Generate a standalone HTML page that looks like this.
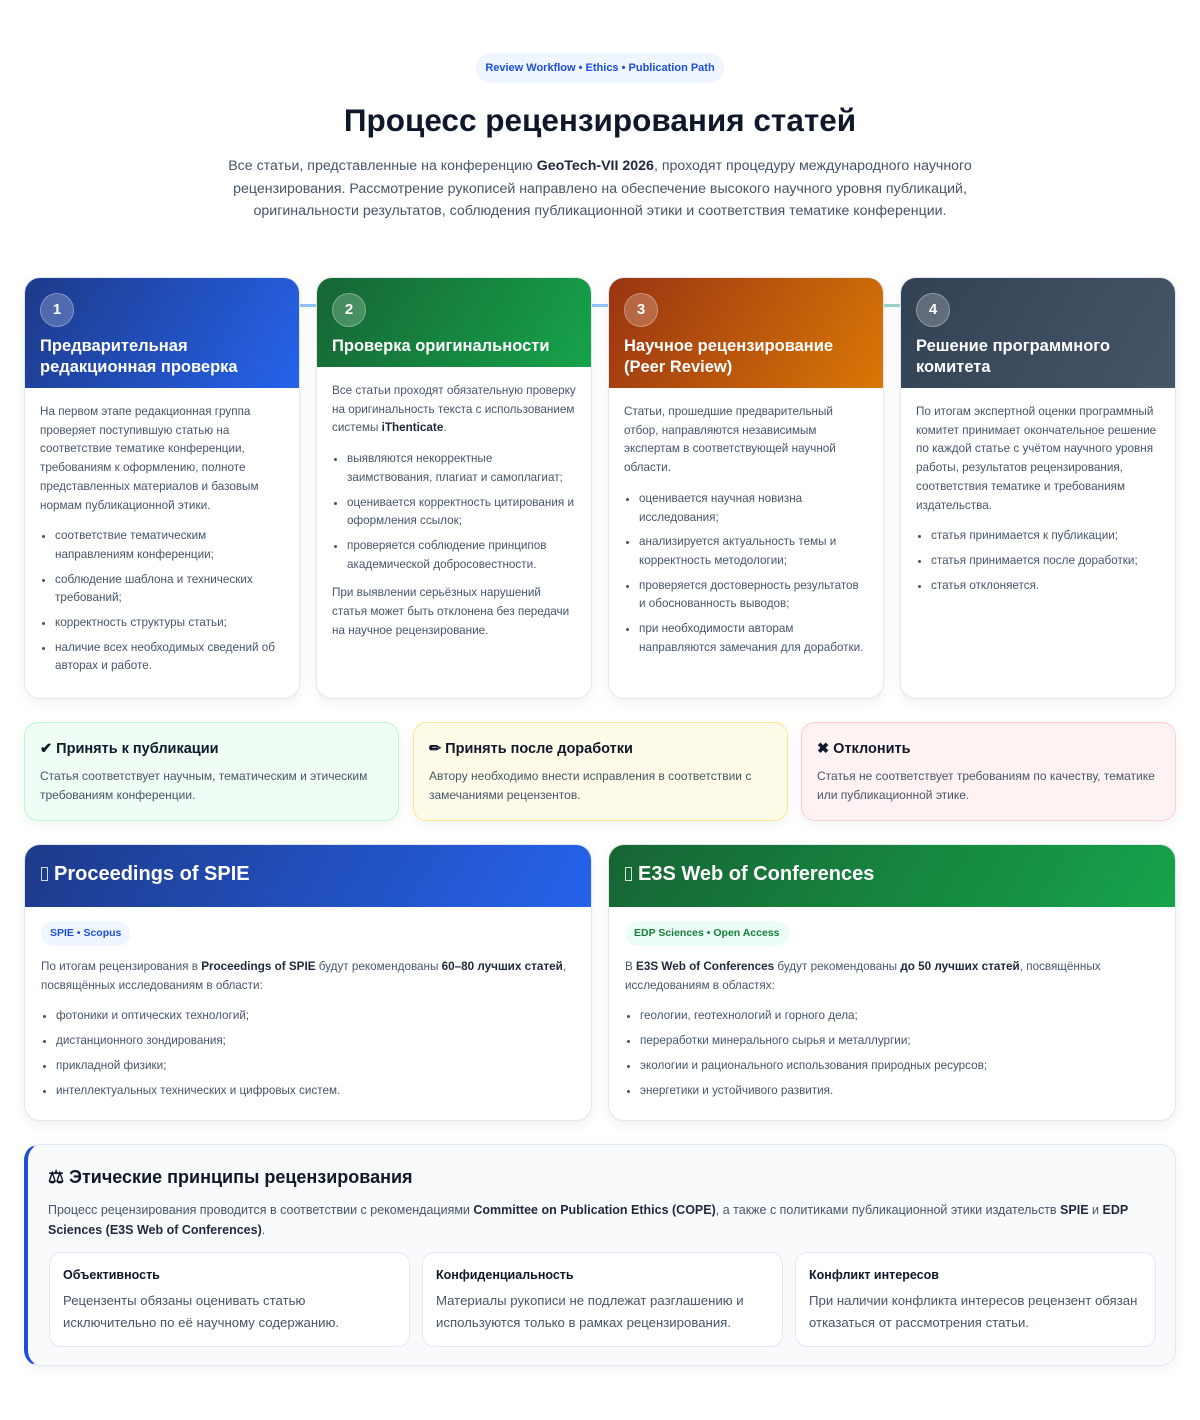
<!DOCTYPE html>
<html><head><meta charset="utf-8">
<style>
*{box-sizing:border-box;margin:0;padding:0}
body{width:1200px;height:1420px;background:#fff;font-family:"Liberation Sans",sans-serif;color:#0f172a;position:relative;overflow:hidden}
.abs{position:absolute}
.badge{left:476px;top:53px;width:248px;height:30px;border-radius:15px;background:#eff6ff;color:#1d4ed8;font-size:11px;font-weight:bold;text-align:center;line-height:30px}
h1{position:absolute;left:0;width:1200px;top:102px;text-align:center;font-size:31.5px;font-weight:bold;color:#0f172a}
.sub{left:220px;width:760px;top:155px;text-align:center;font-size:14.2px;line-height:22.5px;color:#475569}
.sub b{color:#1e293b}
.line{height:3px;top:304px}
.step{top:277px;width:276px;height:422px;border:1px solid #e2e8f0;border-radius:16px;background:#fff;overflow:hidden;box-shadow:0 4px 14px rgba(15,23,42,.06)}
.sh{padding:15px 15px 10px;color:#fff}
.num{width:34px;height:34px;border-radius:50%;background:rgba(255,255,255,.22);border:1px solid rgba(255,255,255,.3);text-align:center;line-height:32px;font-weight:bold;font-size:15px;margin-bottom:9px}
.sh h3{font-size:16.5px;line-height:21px;font-weight:bold}
.sb{padding:15px 15px 0;font-size:11.7px;line-height:18.7px;color:#475569}
.sb b{color:#1e293b}
ul{padding-left:15px;margin:12px 0 10px}
li{margin-bottom:6px}
.dec{top:722px;height:99px;width:375px;border-radius:14px;padding:18px 15px 0;box-shadow:0 4px 12px rgba(15,23,42,.05)}
.dec h4{font-size:14.5px;font-weight:bold;margin-bottom:10px}
.dec p{font-size:12px;line-height:18.7px;color:#475569}
.pub{top:844px;width:568px;height:277px;border:1px solid #e2e8f0;border-radius:16px;overflow:hidden;background:#fff;box-shadow:0 4px 14px rgba(15,23,42,.06)}
.ph{height:62px;color:#fff;font-size:20px;font-weight:bold;padding:18px 16px 0}
.box{display:inline-block;width:7px;height:14px;border:1px solid rgba(255,255,255,.8);margin-right:6px;vertical-align:-1px}
.pb{padding:14px 16px;font-size:11.7px;line-height:18.7px;color:#475569}
.pb b{color:#1e293b}
.tag{display:inline-block;height:25px;line-height:25px;border-radius:13px;padding:0 9px;font-size:10.5px;font-weight:bold;margin-bottom:12px}
.pb li{margin-bottom:6.3px}
.eth{left:24px;top:1144px;width:1152px;height:222px;border:1px solid #e2e8f0;border-left:4px solid #1d4ed8;border-radius:16px;background:#f8fafc;padding:22px 20px 0;box-shadow:0 4px 14px rgba(15,23,42,.05)}
.eth h3{font-size:18px;font-weight:bold;margin-bottom:12px}
.eth p.t{font-size:12.5px;line-height:20px;color:#475569}
.eth p.t b{color:#1e293b}
.ec{position:absolute;top:107px;width:361px;height:95px;background:#fff;border:1px solid #e2e8f0;border-radius:12px;padding:15px 13px}
.ec h5{font-size:12.5px;font-weight:bold;margin-bottom:8px}
.ec p{font-size:13.2px;line-height:22px;color:#475569}
</style></head><body>
<div class="abs badge">Review Workflow • Ethics • Publication Path</div>
<h1>Процесс рецензирования статей</h1>
<div class="abs sub">Все статьи, представленные на конференцию <b>GeoTech-VII 2026</b>, проходят процедуру международного научного рецензирования. Рассмотрение рукописей направлено на обеспечение высокого научного уровня публикаций, оригинальности результатов, соблюдения публикационной этики и соответствия тематике конференции.</div>

<div class="abs line" style="left:290px;width:40px;background:#93c5fd"></div>
<div class="abs line" style="left:582px;width:40px;background:#93c5fd"></div>
<div class="abs line" style="left:874px;width:40px;background:#99d6cc"></div>

<div class="abs step" style="left:24px">
<div class="sh" style="background:linear-gradient(120deg,#1e3a8a,#2563eb)"><div class="num">1</div><h3>Предварительная редакционная проверка</h3></div>
<div class="sb">На первом этапе редакционная группа проверяет поступившую статью на соответствие тематике конференции, требованиям к оформлению, полноте представленных материалов и базовым нормам публикационной этики.
<ul><li>соответствие тематическим направлениям конференции;</li><li>соблюдение шаблона и технических требований;</li><li>корректность структуры статьи;</li><li>наличие всех необходимых сведений об авторах и работе.</li></ul></div></div>

<div class="abs step" style="left:316px">
<div class="sh" style="background:linear-gradient(120deg,#166534,#16a34a)"><div class="num">2</div><h3>Проверка оригинальности</h3></div>
<div class="sb">Все статьи проходят обязательную проверку на оригинальность текста с использованием системы <b>iThenticate</b>.
<ul><li>выявляются некорректные заимствования, плагиат и самоплагиат;</li><li>оценивается корректность цитирования и оформления ссылок;</li><li>проверяется соблюдение принципов академической добросовестности.</li></ul>При выявлении серьёзных нарушений статья может быть отклонена без передачи на научное рецензирование.</div></div>

<div class="abs step" style="left:608px">
<div class="sh" style="background:linear-gradient(120deg,#9a3412,#d97706)"><div class="num">3</div><h3>Научное рецензирование (Peer Review)</h3></div>
<div class="sb">Статьи, прошедшие предварительный отбор, направляются независимым экспертам в соответствующей научной области.
<ul><li>оценивается научная новизна исследования;</li><li>анализируется актуальность темы и корректность методологии;</li><li>проверяется достоверность результатов и обоснованность выводов;</li><li>при необходимости авторам направляются замечания для доработки.</li></ul></div></div>

<div class="abs step" style="left:900px">
<div class="sh" style="background:linear-gradient(120deg,#334155,#475569)"><div class="num">4</div><h3>Решение программного комитета</h3></div>
<div class="sb">По итогам экспертной оценки программный комитет принимает окончательное решение по каждой статье с учётом научного уровня работы, результатов рецензирования, соответствия тематике и требованиям издательства.
<ul><li>статья принимается к публикации;</li><li>статья принимается после доработки;</li><li>статья отклоняется.</li></ul></div></div>

<div class="abs dec" style="left:24px;background:#f0fdf4;border:1px solid #bbf7d0"><h4>✔ Принять к публикации</h4><p>Статья соответствует научным, тематическим и этическим требованиям конференции.</p></div>
<div class="abs dec" style="left:413px;background:#fefce8;border:1px solid #fde68a"><h4>✏ Принять после доработки</h4><p>Автору необходимо внести исправления в соответствии с замечаниями рецензентов.</p></div>
<div class="abs dec" style="left:801px;background:#fef2f2;border:1px solid #fecdd3"><h4>✖ Отклонить</h4><p>Статья не соответствует требованиям по качеству, тематике или публикационной этике.</p></div>

<div class="abs pub" style="left:24px">
<div class="ph" style="background:linear-gradient(120deg,#1e3a8a,#2563eb)"><span class="box"></span>Proceedings of SPIE</div>
<div class="pb"><span class="tag" style="background:#eff6ff;color:#1d4ed8">SPIE • Scopus</span><br>
По итогам рецензирования в <b>Proceedings of SPIE</b> будут рекомендованы <b>60–80 лучших статей</b>, посвящённых исследованиям в области:
<ul><li>фотоники и оптических технологий;</li><li>дистанционного зондирования;</li><li>прикладной физики;</li><li>интеллектуальных технических и цифровых систем.</li></ul></div></div>

<div class="abs pub" style="left:608px">
<div class="ph" style="background:linear-gradient(120deg,#166534,#16a34a)"><span class="box"></span>E3S Web of Conferences</div>
<div class="pb"><span class="tag" style="background:#ecfdf5;color:#15803d">EDP Sciences • Open Access</span><br>
В <b>E3S Web of Conferences</b> будут рекомендованы <b>до 50 лучших статей</b>, посвящённых исследованиям в областях:
<ul><li>геологии, геотехнологий и горного дела;</li><li>переработки минерального сырья и металлургии;</li><li>экологии и рационального использования природных ресурсов;</li><li>энергетики и устойчивого развития.</li></ul></div></div>

<div class="abs eth">
<h3>⚖ Этические принципы рецензирования</h3>
<p class="t">Процесс рецензирования проводится в соответствии с рекомендациями <b>Committee on Publication Ethics (COPE)</b>, а также с политиками публикационной этики издательств <b>SPIE</b> и <b>EDP Sciences (E3S Web of Conferences)</b>.</p>
<div class="ec" style="left:21px"><h5>Объективность</h5><p>Рецензенты обязаны оценивать статью исключительно по её научному содержанию.</p></div>
<div class="ec" style="left:394px"><h5>Конфиденциальность</h5><p>Материалы рукописи не подлежат разглашению и используются только в рамках рецензирования.</p></div>
<div class="ec" style="left:767px"><h5>Конфликт интересов</h5><p>При наличии конфликта интересов рецензент обязан отказаться от рассмотрения статьи.</p></div>
</div>
</body></html>
